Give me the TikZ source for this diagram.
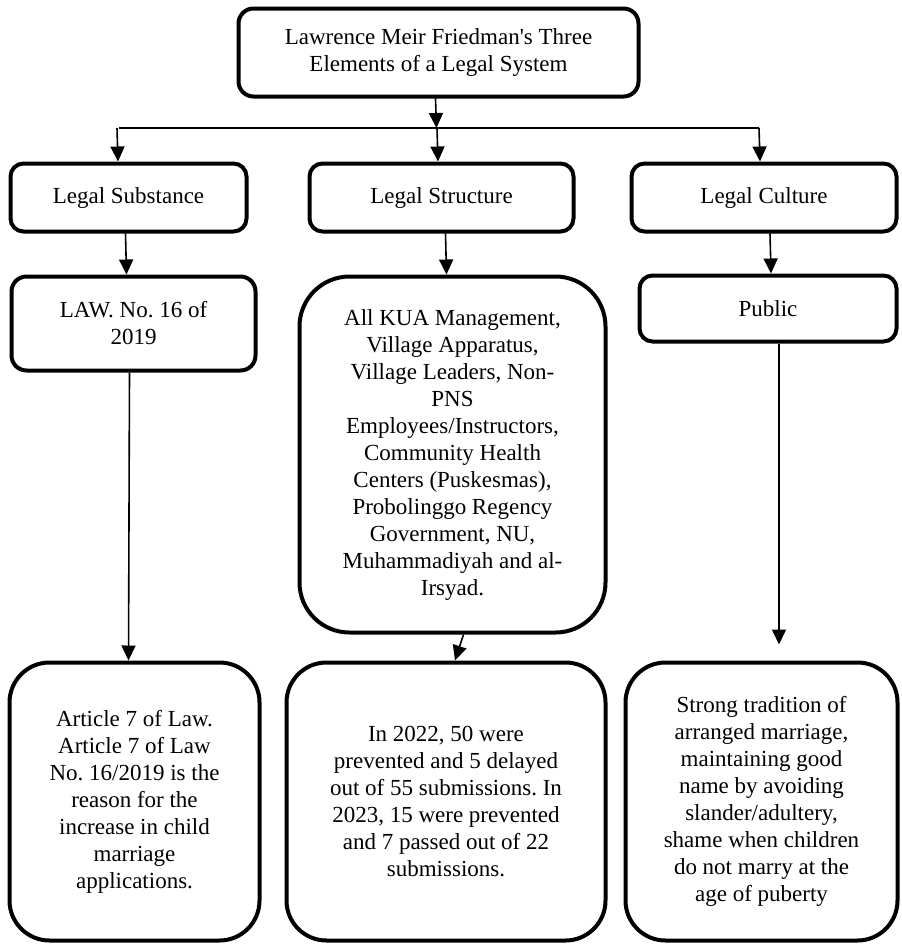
\documentclass[tikz,border=0pt]{standalone}
\usepackage{fontspec}
\setmainfont{Liberation Serif}
\usetikzlibrary{arrows.meta}
\begin{document}
\frenchspacing
\begin{tikzpicture}[x=1pt,y=-1pt,
  box/.style={draw, line width=4pt, rounded corners=#1, align=center, inner sep=0pt,
    font=\fontsize{23}{27}\selectfont\frenchspacing},
  box/.default=13pt,
  arr/.style={line width=1.6pt, -{Triangle[width=14pt,length=15pt]}},
  ln/.style={line width=1.6pt}]
\useasboundingbox (0,0) rectangle (902,945);

\node[box=15pt, minimum width=400pt, minimum height=88pt] (top) at (438.5,52.5)
  {Lawrence Meir Friedman\textquotesingle s Three\\Elements of a Legal System};

\node[box, minimum width=236pt, minimum height=68pt] (sub) at (128.5,197.5) {Legal Substance};
\node[box, minimum width=264pt, minimum height=68pt] (str) at (441.5,197.5) {Legal Structure};
\node[box, minimum width=265pt, minimum height=68pt] (cul) at (764,197.5) {Legal Culture};

\node[box=15pt, minimum width=244pt, minimum height=94pt] (law) at (133.5,323.5) {LAW. No. 16 of\\2019};
\node[box=50pt, minimum width=306pt, minimum height=356pt] (kua) at (452.5,454.5)
  {All KUA Management,\\Village Apparatus,\\Village Leaders, Non-\\PNS\\Employees/Instructors,\\Community Health\\Centers (Puskesmas),\\Probolinggo Regency\\Government, NU,\\Muhammadiyah and al-\\Irsyad.};
\node[box, minimum width=257pt, minimum height=66pt] (pub) at (768,308.5) {Public};

\node[box=40pt, minimum width=250pt, minimum height=278pt] (art) at (134.5,801.5)
  {Article 7 of Law.\\Article 7 of Law\\No. 16/2019 is the\\reason for the\\increase in child\\marriage\\applications.};
\node[box=40pt, minimum width=319pt, minimum height=278pt] (num) at (446,801.5)
  {In 2022, 50 were\\prevented and 5 delayed\\out of 55 submissions. In\\2023, 15 were prevented\\and 7 passed out of 22\\submissions.};
\node[box=40pt, minimum width=272pt, minimum height=278pt] (tra) at (761.5,801.5)
  {Strong tradition of\\arranged marriage,\\maintaining good\\name by avoiding\\slander/adultery,\\shame when children\\do not marry at the\\age of puberty};

% distribution line
\coordinate (hl) at (119,128);
\coordinate (hm) at (437,128);
\coordinate (hr) at (759,128);
\draw[arr] ([xshift=-3pt]top.south) -- ([xshift=-2pt]top.south |- hm);
\draw[ln] (hl) -- (hr);
\draw[arr] ([xshift=-2pt]hl) -- ([xshift=-1pt]sub.north -| hl);
\draw[arr] (hm) -- ([xshift=1pt]str.north -| hm);
\draw[arr] (hr) -- ([xshift=1pt]cul.north -| hr);

% row 2 -> row 3
\draw[arr] ([xshift=-3pt]sub.south) -- ([xshift=-2pt]sub.south |- law.north);
\draw[arr] ([xshift=4pt]str.south) -- ([xshift=5pt]str.south |- kua.north);
\draw[arr] ([xshift=6pt]cul.south) -- ([xshift=7pt]cul.south |- pub.north);

% row 3 -> row 4
\draw[arr] ([xshift=-4pt]law.south) -- ([xshift=-6pt]art.north);
\draw[arr] ([xshift=11pt]kua.south) -- ([xshift=9pt]num.north);
\draw[arr] ([xshift=11pt]pub.south) -- ([xshift=11pt,yshift=16pt]pub.south |- tra.north);
\end{tikzpicture}
\end{document}
